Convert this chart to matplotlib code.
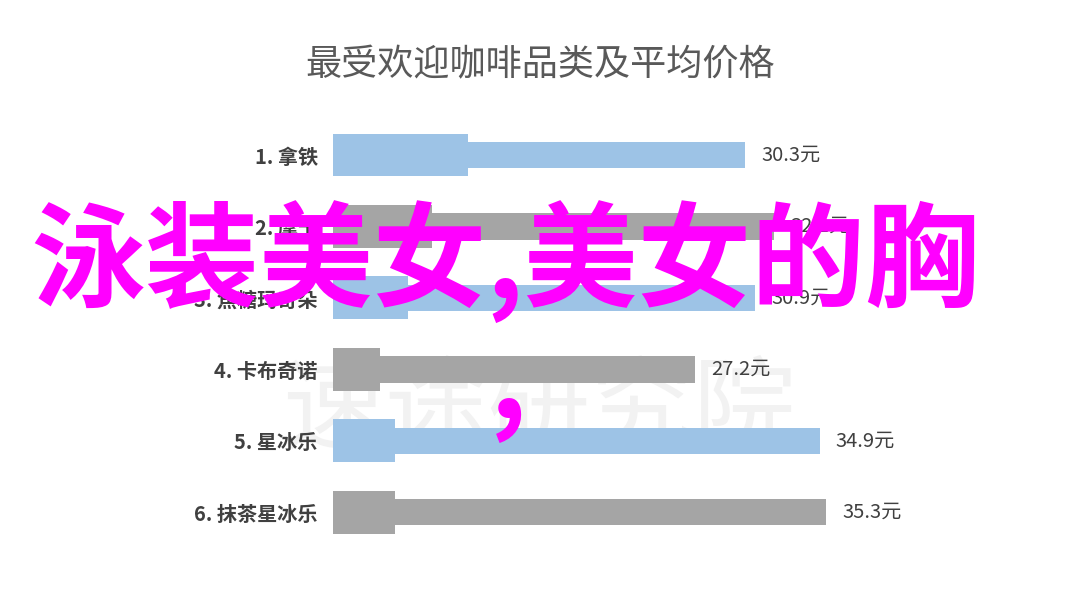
import matplotlib
matplotlib.use('Agg')
import matplotlib.pyplot as plt

plt.rcParams['font.family'] = ['Noto Sans CJK SC', 'DejaVu Sans']

# data
categories = ['1. 拿铁', '2. 摩卡', '3. 焦糖玛奇朵', '4. 卡布奇诺', '5. 星冰乐', '6. 抹茶星冰乐']
prices = [30.3, 32.1, 30.9, 27.2, 34.9, 35.3]
stub_values = [13.2, 11.0, 9.5, 7.8, 8.7, 8.7]
value_labels = ['30.3元', '32.1元', '30.9元', '27.2元', '34.9元', '35.3元']
title = '最受欢迎咖啡品类及平均价格'
overlay = '泳装美女,美女的胸'

blue = '#9dc3e6'
gray = '#a5a5a5'
colors = [blue if i % 2 == 0 else gray for i in range(len(categories))]

fig = plt.figure(figsize=(10.8, 6.08), dpi=100)
fig.patch.set_facecolor('white')

ax = fig.add_axes([333 / 1080, 1 - 548 / 608, (880 - 333) / 1080, (548 - 120) / 608])
ax.set_facecolor('none')
y = list(range(len(categories)))

# faint watermark behind the bars
ax.text(0.5, 1 - 412 / 608, '速途研究院', transform=fig.transFigure, ha='center', va='center',
        fontsize=74, color='#f2f2f2', zorder=0, clip_on=False)

ax.barh(y, prices, height=0.37, color=colors, edgecolor='none', zorder=2)
ax.barh(y, stub_values, height=0.60, color=colors, edgecolor='none', zorder=2)

for yi, p, lab in zip(y, prices, value_labels):
    ax.annotate(lab, xy=(p, yi), xytext=(11.5, 0), textcoords='offset points',
                ha='left', va='center', fontsize=14.5, color='#404040')

ax.set_xlim(4.9, 38.6)
ax.set_ylim(5.5, -0.49)
ax.set_yticks(y)
ax.set_yticklabels(categories, fontsize=14.5, fontweight='bold', color='#404040')
ax.tick_params(axis='y', length=0, pad=11)
ax.set_xticks([])
for s in ax.spines.values():
    s.set_visible(False)

fig.text(0.5, 1 - 65 / 608, title, ha='center', va='center', fontsize=26, color='#595959')

# magenta overlay text on top of the picture
fig.text(505 / 1080, 1 - 262 / 608, overlay, ha='center', va='center', fontsize=82,
         color='#ff00ff', fontweight='bold', zorder=10)
fig.text(508 / 1080, 1 - 385 / 608, ',', ha='center', va='center', fontsize=82,
         color='#ff00ff', fontweight='bold', zorder=10)

fig.savefig('out.png', dpi=100, facecolor='white')
plt.close(fig)
